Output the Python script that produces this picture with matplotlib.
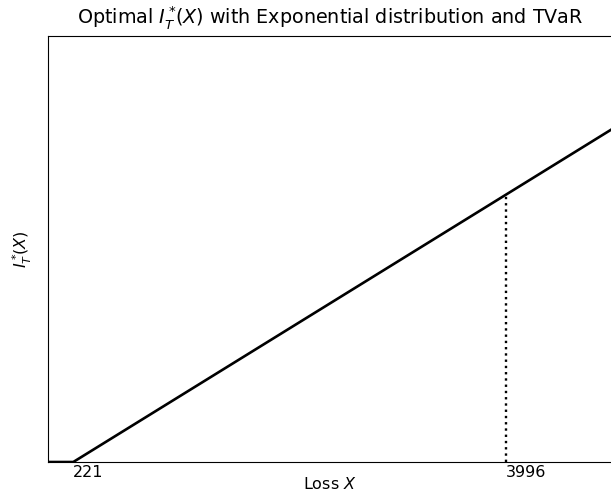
import matplotlib
matplotlib.use("Agg")
import matplotlib.pyplot as plt

# Data
loss = [0, 221, 4925]
indemnity = [0, 0, 4704]
deductible = 221
tvar_point = 3996
tvar_value = 3775
xticks = [221, 3996]
xtick_labels = ["221", "3996"]

W, H = 611, 493
fig = plt.figure(figsize=(W / 100, H / 100), dpi=100)
ax = fig.add_axes([48 / W, (H - 462) / H, (612 - 48) / W, (462 - 36) / H])

ax.plot(loss, indemnity, color="black", linewidth=1.9)
ax.plot([tvar_point, tvar_point], [0, tvar_value], color="black",
        linestyle=":", linewidth=1.7)

ax.set_xlim(0, 4925)
ax.set_ylim(0, 6020)
ax.set_xticks(xticks)
ax.set_xticklabels(xtick_labels, ha="left")
ax.set_yticks([])
ax.tick_params(axis="x", length=0, pad=2, labelsize=11.5)

ax.set_title(r"Optimal $I_T^*\!(X)$ with Exponential distribution and TVaR",
             fontsize=13.8, pad=9)
ax.set_xlabel(r"Loss $X$", fontsize=11.5, labelpad=-3)
ax.set_ylabel(r"$I_T^*\!(X)$", fontsize=11.5, labelpad=10)

fig.savefig("out.png", dpi=100)
